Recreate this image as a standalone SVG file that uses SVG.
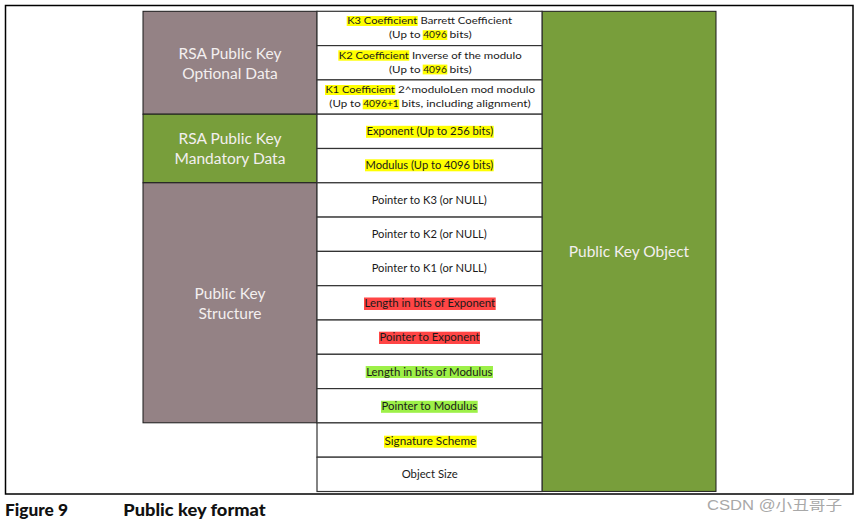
<svg xmlns="http://www.w3.org/2000/svg" width="858" height="522" viewBox="0 0 858 522">
<style>
.frame{fill:#fff;stroke:#000;stroke-width:1.5}
.mauve{fill:#948285;stroke:#1a1a1a;stroke-width:1}
.green{fill:#789e3b;stroke:#1a1a1a;stroke-width:1}
.row{fill:#fff;stroke:#333;stroke-width:1.2}
.lbl{font-family:Lato,"Liberation Sans",sans-serif;font-size:15.5px;fill:#f3efef;text-anchor:middle}
.t{font-family:Lato,"Liberation Sans",sans-serif;font-size:11px;fill:#1a1a1a}
.t2{font-family:Lato,"Liberation Sans",sans-serif;font-size:10.3px;fill:#1a1a1a}
.hy{fill:#ffff00}
.hr{fill:#ff4545}
.hg{fill:#9df048}
.cap{font-family:Lato,"Liberation Sans",sans-serif;font-size:16px;font-weight:900;fill:#111}
.wm{font-family:"Liberation Sans","Noto Sans CJK SC",sans-serif;font-size:14px;fill:#a8a8a8}
</style>
<rect class="frame" x="5.5" y="5.5" width="847.5" height="488.5"/>

<g id="optional-data">
<rect class="mauve" x="143" y="11.3" width="174" height="102.9"/>
<text class="lbl" x="230" y="59.3">RSA Public Key</text>
<text class="lbl" x="230" y="78.5">Optional Data</text>
</g>
<g id="mandatory-data">
<rect class="green" x="143" y="114.2" width="174" height="68.6"/>
<text class="lbl" x="230" y="144.3">RSA Public Key</text>
<text class="lbl" x="230" y="164.3">Mandatory Data</text>
</g>
<g id="key-structure">
<rect class="mauve" x="143" y="182.8" width="174" height="240"/>
<text class="lbl" x="230" y="298.5">Public Key</text>
<text class="lbl" x="230" y="318.5">Structure</text>
</g>
<g id="key-object">
<rect class="green" x="542" y="11.3" width="174" height="480.1"/>
<text class="lbl" x="629" y="256.7">Public Key Object</text>
</g>

<g id="row-k3">
<rect class="row" x="317" y="11.3" width="225" height="34.3"/>
<rect class="hy" x="346.7" y="16" width="71" height="10"/>
<text class="t2" x="347.2" y="24" textLength="70" lengthAdjust="spacingAndGlyphs">K3 Coefficient</text>
<text class="t2" x="420.5" y="24" textLength="91.5" lengthAdjust="spacingAndGlyphs">Barrett Coefficient</text>
<rect class="hy" x="422.7" y="30.2" width="24.6" height="9.8"/>
<text class="t2" x="389" y="38" textLength="31.5" lengthAdjust="spacingAndGlyphs">(Up to</text>
<text class="t2" x="423.2" y="38" textLength="23.6" lengthAdjust="spacingAndGlyphs">4096</text>
<text class="t2" x="449.5" y="38" textLength="22.2" lengthAdjust="spacingAndGlyphs">bits)</text>
</g>
<g id="row-k2">
<rect class="row" x="317" y="45.6" width="225" height="34.3"/>
<rect class="hy" x="338.3" y="50.3" width="71" height="10.4"/>
<text class="t2" x="338.8" y="58.5" textLength="70" lengthAdjust="spacingAndGlyphs">K2 Coefficient</text>
<text class="t2" x="412" y="58.5" textLength="109.7" lengthAdjust="spacingAndGlyphs">Inverse of the modulo</text>
<rect class="hy" x="422.7" y="64.6" width="24.6" height="9.8"/>
<text class="t2" x="389" y="72.5" textLength="31.5" lengthAdjust="spacingAndGlyphs">(Up to</text>
<text class="t2" x="423.2" y="72.5" textLength="23.6" lengthAdjust="spacingAndGlyphs">4096</text>
<text class="t2" x="449.5" y="72.5" textLength="22.2" lengthAdjust="spacingAndGlyphs">bits)</text>
</g>
<g id="row-k1">
<rect class="row" x="317" y="79.9" width="225" height="34.3"/>
<rect class="hy" x="325" y="85" width="70.3" height="10"/>
<text class="t2" x="325.5" y="93" textLength="69.3" lengthAdjust="spacingAndGlyphs">K1 Coefficient</text>
<text class="t2" x="398" y="93" textLength="137" lengthAdjust="spacingAndGlyphs">2^moduloLen mod modulo</text>
<rect class="hy" x="362.7" y="99.5" width="36.6" height="9.8"/>
<text class="t2" x="329.3" y="107" textLength="31.5" lengthAdjust="spacingAndGlyphs">(Up to</text>
<text class="t2" x="363.2" y="107" textLength="35.6" lengthAdjust="spacingAndGlyphs">4096+1</text>
<text class="t2" x="401.5" y="107" textLength="129.2" lengthAdjust="spacingAndGlyphs">bits, including alignment)</text>
</g>
<g id="row-exponent">
<rect class="row" x="317" y="114.2" width="225" height="34.3"/>
<rect class="hy" x="366" y="125.8" width="127.7" height="12"/>
<text class="t" x="366.5" y="135.3" textLength="126.7" lengthAdjust="spacingAndGlyphs">Exponent (Up to 256 bits)</text>
</g>
<g id="row-modulus">
<rect class="row" x="317" y="148.5" width="225" height="34.3"/>
<rect class="hy" x="365" y="159.3" width="128.7" height="12"/>
<text class="t" x="365.5" y="168.9" textLength="127.7" lengthAdjust="spacingAndGlyphs">Modulus (Up to 4096 bits)</text>
</g>
<g id="row-ptr-k3">
<rect class="row" x="317" y="182.8" width="225" height="34.3"/>
<text class="t" x="371.7" y="203.6" textLength="115" lengthAdjust="spacingAndGlyphs">Pointer to K3 (or NULL)</text>
</g>
<g id="row-ptr-k2">
<rect class="row" x="317" y="217.1" width="225" height="34.3"/>
<text class="t" x="371.7" y="237.9" textLength="115" lengthAdjust="spacingAndGlyphs">Pointer to K2 (or NULL)</text>
</g>
<g id="row-ptr-k1">
<rect class="row" x="317" y="251.4" width="225" height="34.3"/>
<text class="t" x="371.7" y="272.2" textLength="115" lengthAdjust="spacingAndGlyphs">Pointer to K1 (or NULL)</text>
</g>
<g id="row-len-exp">
<rect class="row" x="317" y="285.7" width="225" height="34.3"/>
<rect class="hr" x="364" y="297.5" width="131.7" height="12.5"/>
<text class="t" x="364.5" y="307.2" textLength="130.7" lengthAdjust="spacingAndGlyphs">Length in bits of Exponent</text>
</g>
<g id="row-ptr-exp">
<rect class="row" x="317" y="320" width="225" height="34.3"/>
<rect class="hr" x="379" y="331.7" width="101" height="12.3"/>
<text class="t" x="379.5" y="341.4" textLength="100" lengthAdjust="spacingAndGlyphs">Pointer to Exponent</text>
</g>
<g id="row-len-mod">
<rect class="row" x="317" y="354.3" width="225" height="34.3"/>
<rect class="hg" x="365.7" y="366" width="127.3" height="12"/>
<text class="t" x="366.2" y="375.6" textLength="126.3" lengthAdjust="spacingAndGlyphs">Length in bits of Modulus</text>
</g>
<g id="row-ptr-mod">
<rect class="row" x="317" y="388.6" width="225" height="34.3"/>
<rect class="hg" x="381" y="400.8" width="96.7" height="12"/>
<text class="t" x="381.5" y="410.4" textLength="95.7" lengthAdjust="spacingAndGlyphs">Pointer to Modulus</text>
</g>
<g id="row-sig">
<rect class="row" x="317" y="422.9" width="225" height="34.3"/>
<rect class="hy" x="384" y="435.7" width="92.7" height="12"/>
<text class="t" x="384.5" y="445.3" textLength="91.7" lengthAdjust="spacingAndGlyphs">Signature Scheme</text>
</g>
<g id="row-size">
<rect class="row" x="317" y="457.2" width="225" height="34.3"/>
<text class="t" x="401.7" y="478.3" textLength="56" lengthAdjust="spacingAndGlyphs">Object Size</text>
</g>

<g id="connectors"/>

<g id="caption">
<text class="cap" x="5" y="516" textLength="63" lengthAdjust="spacingAndGlyphs">Figure 9</text>
<text class="cap" x="123.3" y="516" textLength="142.4" lengthAdjust="spacingAndGlyphs">Public key format</text>
<text class="wm" x="707" y="510" textLength="135" lengthAdjust="spacingAndGlyphs">CSDN @小丑哥子</text>
</g>
</svg>
